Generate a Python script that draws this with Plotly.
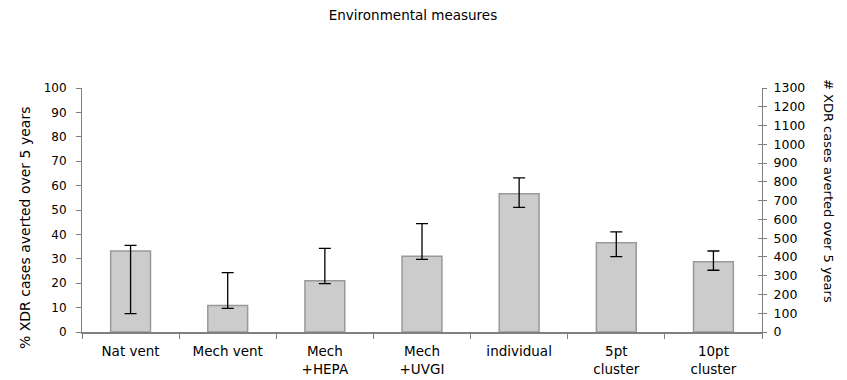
import plotly.graph_objects as go

categories = ["Nat vent", "Mech vent", "Mech<br>+HEPA", "Mech<br>+UVGI", "individual", "5pt<br>cluster", "10pt<br>cluster"]
pct_averted = [33.2, 10.9, 21.0, 31.0, 56.7, 36.6, 28.8]
err_upper = [35.5, 24.3, 34.3, 44.4, 63.2, 41.0, 33.2]
err_lower = [7.5, 9.7, 19.8, 29.8, 51.1, 30.9, 25.3]
left_ticks = list(range(0, 101, 10))
right_ticks = list(range(0, 1301, 100))

plus = [u - v for u, v in zip(err_upper, pct_averted)]
minus = [v - l for v, l in zip(pct_averted, err_lower)]

FONT = "DejaVu Sans, Verdana, sans-serif"
AX = "#808080"
L, R, T, B = 82, 85, 88, 48
PW = 847 - L - R
PH = 380 - T - B

def px_x(p):
    return (p - L) / PW

def px_y(p):
    return (380 - B - p) / PH

fig = go.Figure()
fig.add_trace(go.Bar(
    x=categories, y=pct_averted, width=0.41,
    marker=dict(color="#cccccc", line=dict(color="#999999", width=1.5)),
    error_y=dict(type="data", symmetric=False, array=plus, arrayminus=minus,
                 color="black", thickness=1.3, width=6),
    showlegend=False,
))
fig.add_trace(go.Scatter(x=[categories[0]], y=[0], yaxis="y2", mode="markers",
                         marker=dict(opacity=0), showlegend=False, hoverinfo="skip"))
fig.add_trace(go.Scatter(x=[categories[0]], y=[0], yaxis="y3", mode="markers",
                         marker=dict(opacity=0), showlegend=False, hoverinfo="skip"))

fig.update_layout(
    width=847, height=380,
    margin=dict(l=L, r=R, t=T, b=B),
    paper_bgcolor="white", plot_bgcolor="white",
    font=dict(family=FONT, size=12, color="black"),
    title=dict(text="Environmental measures", x=px_x(413), xref="paper", xanchor="center",
               y=1 - 15 / 380, yanchor="middle", font=dict(size=13.5, family=FONT)),
    xaxis=dict(showline=True, linecolor=AX, linewidth=2, ticks="outside", tickson="boundaries",
               ticklen=5, tickcolor=AX, showgrid=False, tickfont=dict(size=13.5),
               ticklabelstandoff=6, automargin=False),
    yaxis=dict(range=[0, 100], tickvals=left_ticks, showline=True, linecolor=AX, linewidth=1,
               ticks="outside", ticklen=5, tickcolor=AX, showgrid=False, zeroline=False,
               tickfont=dict(size=12), ticklabelstandoff=7, automargin=False),
    yaxis2=dict(range=[0, 1300], tickvals=right_ticks, overlaying="y", side="right", anchor="x",
                showline=True, linecolor=AX, linewidth=1, ticks="outside", ticklen=4,
                tickcolor=AX, showgrid=False, zeroline=False, tickfont=dict(size=12.5),
                ticklabelstandoff=4, automargin=False),
    yaxis3=dict(range=[0, 1300], tickvals=right_ticks, overlaying="y", side="right", anchor="x",
                showticklabels=False, ticks="inside", ticklen=4, tickcolor=AX,
                showgrid=False, zeroline=False, showline=False, automargin=False),
    annotations=[
        dict(text="% XDR cases averted over 5 years", textangle=-90, x=px_x(25), xref="paper",
             y=px_y(228), yref="paper", showarrow=False, font=dict(size=14),
             xanchor="center", yanchor="middle"),
        dict(text="# XDR cases averted over 5 years", textangle=90, x=px_x(829), xref="paper",
             y=px_y(191), yref="paper", showarrow=False, font=dict(size=13),
             xanchor="center", yanchor="middle"),
    ],
)
fig.write_html("out.html")
